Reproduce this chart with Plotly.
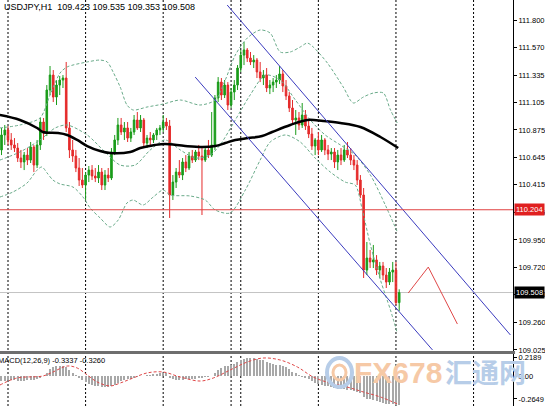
import plotly.graph_objects as go

# ---------------- data ----------------
hours = list(range(-2, 122))  # H1 bar index; day separators every 24 bars

opens = [110.707,110.833,110.875,110.791,110.749,110.723,110.639,110.606,110.664,110.622,110.732,110.580,110.749,
         110.942,110.849,111.211,111.337,111.152,111.253,111.295,111.312,110.892,110.707,110.656,110.555,110.454,
         110.412,110.496,110.538,110.488,110.471,110.521,110.412,110.496,110.471,110.690,110.791,110.917,110.858,
         110.892,110.807,110.858,110.959,110.892,110.959,110.765,110.807,110.791,110.833,110.875,110.892,110.942,
         110.908,110.328,110.437,110.521,110.496,110.606,110.555,110.656,110.622,110.690,110.656,110.622,110.707,
         110.664,110.749,111.144,111.278,111.169,111.253,111.085,111.194,111.253,111.396,111.505,111.548,111.480,
         111.447,111.463,111.363,111.312,111.337,111.228,111.253,111.278,111.295,111.346,111.245,111.161,111.060,
         110.959,110.976,110.917,111.001,110.908,110.841,110.740,110.791,110.707,110.791,110.707,110.673,110.690,
         110.606,110.664,110.622,110.707,110.664,110.622,110.580,110.454,110.328,109.697,109.798,109.765,109.782,
         109.697,109.731,109.655,109.596,109.680,109.697,109.423]
highs = [110.892,110.917,110.908,110.849,110.807,110.765,110.707,110.690,110.723,110.774,110.749,110.791,110.976,
         110.976,111.253,111.413,111.379,111.295,111.329,111.337,111.447,110.942,110.791,110.707,110.639,110.555,
         110.521,110.572,110.580,110.555,110.580,110.555,110.538,110.555,110.723,110.833,110.976,110.976,110.942,
         110.942,110.892,111.001,111.026,111.001,110.976,110.833,110.858,110.849,110.892,110.917,111.001,110.976,
         110.959,110.496,110.555,110.622,110.639,110.664,110.690,110.707,110.707,110.749,110.723,110.723,110.791,
         111.026,111.169,111.320,111.312,111.295,111.278,111.228,111.295,111.421,111.548,111.615,111.564,111.531,
         111.505,111.480,111.447,111.379,111.396,111.295,111.312,111.337,111.413,111.379,111.295,111.194,111.127,
         111.043,111.026,111.102,111.043,110.959,110.892,110.807,110.858,110.833,110.807,110.749,110.723,110.723,
         110.707,110.723,110.749,110.774,110.723,110.664,110.622,110.496,110.387,109.933,109.866,109.908,109.823,
         109.765,109.765,109.714,109.714,109.765,109.765,109.535]
lows = [110.664,110.749,110.749,110.707,110.690,110.606,110.555,110.538,110.580,110.597,110.521,110.555,110.707,
        110.791,110.824,111.169,111.110,111.085,111.169,111.228,110.858,110.639,110.606,110.521,110.404,110.387,
        110.286,110.437,110.454,110.437,110.429,110.370,110.370,110.437,110.454,110.664,110.749,110.833,110.791,
        110.774,110.774,110.833,110.875,110.858,110.732,110.723,110.749,110.765,110.791,110.833,110.858,110.875,
        110.135,110.286,110.387,110.471,110.454,110.521,110.538,110.597,110.606,110.622,110.160,110.606,110.639,
        110.648,110.707,111.110,111.127,111.144,111.043,111.060,111.127,111.211,111.363,111.421,111.447,111.421,
        111.396,111.312,111.278,111.253,111.194,111.177,111.194,111.228,111.262,111.194,111.127,111.026,110.917,
        110.833,110.875,110.892,110.875,110.807,110.707,110.664,110.664,110.690,110.664,110.622,110.622,110.555,
        110.538,110.580,110.606,110.639,110.580,110.538,110.412,110.303,109.630,109.655,109.714,109.714,109.655,
        109.630,109.613,109.546,109.571,109.596,109.403,109.353]
closes = [110.833,110.875,110.791,110.749,110.723,110.639,110.606,110.664,110.622,110.732,110.580,110.749,110.942,
          110.849,111.211,111.337,111.152,111.253,111.295,111.312,110.892,110.707,110.656,110.555,110.454,110.412,
          110.496,110.538,110.488,110.471,110.521,110.412,110.496,110.471,110.690,110.791,110.917,110.858,110.892,
          110.807,110.858,110.959,110.892,110.959,110.765,110.807,110.791,110.833,110.875,110.892,110.942,110.908,
          110.328,110.437,110.521,110.496,110.606,110.555,110.656,110.622,110.690,110.656,110.622,110.707,110.664,
          110.749,111.144,111.278,111.169,111.253,111.085,111.194,111.253,111.396,111.505,111.548,111.480,111.447,
          111.463,111.363,111.312,111.337,111.228,111.253,111.278,111.295,111.346,111.245,111.161,111.060,110.959,
          110.976,110.917,111.001,110.908,110.841,110.740,110.791,110.707,110.791,110.707,110.673,110.690,110.606,
          110.664,110.622,110.707,110.664,110.622,110.580,110.454,110.328,109.697,109.798,109.765,109.782,109.697,
          109.731,109.655,109.596,109.680,109.697,109.423,109.508]

# slow moving average (black)
ma_x = [-2.5, 3.7, 9.0, 10.8, 15.5, 18.3, 21.4, 24.5, 28.5, 31.6, 37.8, 40.9, 45.5, 48.6, 54.8, 60.1, 64.1, 67.2,
        70.3, 74.3, 78.6, 81.7, 87.3, 92.6, 97.5, 102.8, 109.0, 115.2, 120.7]
ma_y = [111.001, 110.959, 110.892, 110.858, 110.849, 110.833, 110.791, 110.740, 110.698, 110.681, 110.690, 110.723,
        110.749, 110.757, 110.740, 110.732, 110.740, 110.765, 110.791, 110.807, 110.824, 110.858, 110.917, 110.959,
        110.950, 110.934, 110.900, 110.816, 110.723]

# Bollinger bands (dashed)
bb_up_x = [-2.5, 3.7, 9.9, 13.0, 16.1, 18.3, 24.5, 28.5, 30.7, 32.5, 34.7, 36.8, 38.7, 43.0, 48.0, 53.3, 59.4, 64.1,
           67.2, 70.3, 74.0, 78.0, 81.1, 84.2, 87.3, 90.4, 92.6, 94.4, 98.8, 103.7, 106.8, 109.9, 113.0, 116.1, 118.3, 120.4]
bb_up_y = [110.892, 110.917, 110.976, 111.169, 111.354, 111.405, 111.447, 111.463, 111.447, 111.363, 111.236, 111.085,
           111.043, 111.068, 111.093, 111.127, 111.085, 111.127, 111.295, 111.505, 111.648, 111.716, 111.690, 111.531,
           111.531, 111.573, 111.606, 111.573, 111.438, 111.236, 111.102, 111.152, 111.186, 111.186, 111.043, 110.934]
bb_mid_x = [-2.5, 3.7, 9.9, 14.6, 18.3, 24.5, 30.0, 34.7, 39.3, 44.0, 48.6, 53.3, 57.9, 62.5, 65.6, 70.3, 74.9, 79.6,
            84.2, 88.9, 93.5, 98.1, 102.8, 107.4, 112.1, 116.7, 120.4]
bb_mid_y = [110.622, 110.690, 110.791, 110.892, 110.917, 110.833, 110.690, 110.580, 110.580, 110.707, 110.791, 110.707,
            110.639, 110.664, 110.749, 110.959, 111.169, 111.337, 111.295, 111.127, 110.959, 110.833, 110.749, 110.664,
            110.496, 110.244, 110.018]
bb_lo_x = [-2.5, 1.5, 5.9, 9.0, 10.5, 12.1, 13.9, 16.1, 20.1, 23.2, 25.4, 28.5, 31.6, 34.1, 36.8, 38.7, 41.8, 44.9,
           48.0, 50.2, 56.3, 61.0, 64.1, 68.7, 73.4, 78.0, 81.1, 85.8, 90.4, 95.0, 99.7, 104.3, 107.4, 109.6, 112.1,
           115.2, 118.3, 120.4]
bb_lo_y = [110.311, 110.353, 110.429, 110.538, 110.564, 110.513, 110.454, 110.421, 110.395, 110.311, 110.219, 110.135,
           110.059, 110.118, 110.261, 110.286, 110.244, 110.311, 110.370, 110.328, 110.320, 110.286, 110.202, 110.177,
           110.370, 110.622, 110.774, 110.833, 110.774, 110.639, 110.521, 110.437, 110.412, 110.202, 109.908, 109.613,
           109.361, 109.167]

# trend channel (blue) and projected zigzag (red)
chan_up_x = [67.8, 155.4]
chan_up_y = [111.926, 109.151]
chan_lo_x = [57.9, 131.3]
chan_lo_y = [111.320, 109.025]
zig_x = [123.8, 130.0, 139.0]
zig_y = [109.504, 109.722, 109.243]

level_red = 110.204
level_bid = 109.508
day_lines = [0, 24, 48, 69, 72, 96, 120, 144]

price_ticks = [111.800, 111.570, 111.335, 111.105, 110.875, 110.645, 110.415, 110.185,
               109.950, 109.720, 109.490, 109.260, 109.025]

# MACD(12,26,9): main (histogram) and signal (dashed)
macd_main = [-0.06, -0.06, -0.05, -0.05, -0.05, -0.06, -0.06, -0.06, -0.05, -0.05, -0.05, -0.03, -0.02,
             0.00, 0.04, 0.08, 0.10, 0.11, 0.12, 0.12, 0.10, 0.07, 0.04, 0.01, -0.02, -0.05, -0.07,
             -0.09, -0.10, -0.11, -0.12, -0.13, -0.13, -0.13, -0.12, -0.10, -0.08, -0.06, -0.05, -0.04, -0.03,
             -0.02, -0.01, 0.00, 0.00, 0.01, 0.01, 0.02, 0.02, 0.03, 0.04, 0.04,
             -0.02, -0.04, -0.05, -0.05, -0.05, -0.04, -0.04, -0.03, -0.03, -0.02, -0.02, -0.01, -0.01, 0.00,
             0.04, 0.07, 0.09, 0.11, 0.12, 0.13, 0.14, 0.16, 0.18, 0.20, 0.21, 0.21, 0.21, 0.20, 0.19, 0.18, 0.16,
             0.15, 0.14, 0.13, 0.13, 0.12, 0.10, 0.08, 0.05, 0.03, 0.01, -0.01, -0.02, -0.04, -0.06, -0.08,
             -0.09, -0.10, -0.11, -0.12, -0.13, -0.14, -0.15, -0.15, -0.15, -0.16, -0.16, -0.17, -0.18, -0.20,
             -0.24, -0.26, -0.27, -0.28, -0.29, -0.30, -0.31, -0.32, -0.32, -0.32, -0.33, -0.3337]
sig_x = [-2.5, 2.8, 10.8, 13.9, 18.3, 21.4, 24.5, 27.6, 31.6, 34.7, 38.7, 43.0, 48.0, 53.3, 59.4, 63.5, 68.7, 74.0,
         78.9, 84.2, 89.5, 94.4, 99.6, 104.9, 109.9, 115.2, 120.7]
sig_y = [-0.104, -0.023, 0.0, 0.046, 0.115, 0.092, 0.012, -0.069, -0.115, -0.081, -0.023, 0.035, 0.046, -0.012,
         -0.058, -0.023, 0.069, 0.161, 0.207, 0.184, 0.104, -0.012, -0.081, -0.127, -0.184, -0.242, -0.326]

# ---------------- figure ----------------
W, H = 545, 406
PLOT_W = 513
def px_x(p):
    return p / PLOT_W
def px_y(p):
    return 1 - p / H

fig = go.Figure()

GREEN = "#1a9c1a"
RED = "#e52b2b"
fig.add_trace(go.Candlestick(
    x=hours, open=opens, high=highs, low=lows, close=closes,
    increasing=dict(line=dict(color=GREEN, width=1), fillcolor=GREEN),
    decreasing=dict(line=dict(color=RED, width=1), fillcolor=RED),
    whiskerwidth=0, xaxis="x", yaxis="y", hoverinfo="skip"))

band_style = dict(color="#6aab8a", width=1, dash="3px,2px")
for bx, by in [(bb_up_x, bb_up_y), (bb_mid_x, bb_mid_y), (bb_lo_x, bb_lo_y)]:
    fig.add_trace(go.Scatter(x=bx, y=by, mode="lines", line=dict(shape="spline", smoothing=0.8, **band_style),
                             xaxis="x", yaxis="y", hoverinfo="skip"))

fig.add_trace(go.Scatter(x=ma_x, y=ma_y, mode="lines", line=dict(color="black", width=2.5, shape="spline"),
                         xaxis="x", yaxis="y", hoverinfo="skip"))

for cx, cy in [(chan_up_x, chan_up_y), (chan_lo_x, chan_lo_y)]:
    fig.add_trace(go.Scatter(x=cx, y=cy, mode="lines", line=dict(color="#3b3bbf", width=1),
                             xaxis="x", yaxis="y", hoverinfo="skip"))

fig.add_trace(go.Scatter(x=zig_x, y=zig_y, mode="lines", line=dict(color="#e04848", width=1),
                         xaxis="x", yaxis="y", hoverinfo="skip"))

fig.add_trace(go.Bar(x=hours, y=macd_main, marker=dict(color="#a8a8a8", line=dict(width=0)), width=0.35,
                     xaxis="x2", yaxis="y2", hoverinfo="skip"))
fig.add_trace(go.Scatter(x=sig_x, y=sig_y, mode="lines",
                         line=dict(color="#e04848", width=1, dash="3px,2px", shape="spline"),
                         xaxis="x2", yaxis="y2", hoverinfo="skip"))

xr = [(0 - 8) / 3.233, (PLOT_W - 8) / 3.233]
main_bot = 351
price_per_px = 1 / 118.9
y_max = 111.800 + 20 * price_per_px
y_min = y_max - main_bot * price_per_px

tick_font = dict(family="Liberation Sans, Arial, sans-serif", size=7.5, color="black")

shapes = []
for d in day_lines:
    shapes.append(dict(type="line", xref="x", yref="paper", x0=d, x1=d, y0=0, y1=1,
                       line=dict(color="black", width=1, dash="2px,2px"), layer="below"))
shapes.append(dict(type="line", xref="paper", yref="y", x0=0, x1=1, y0=level_red, y1=level_red,
                   line=dict(color="#e04040", width=1)))
shapes.append(dict(type="line", xref="paper", yref="y", x0=0, x1=1, y0=level_bid, y1=level_bid,
                   line=dict(color="#c4c4c4", width=1), layer="below"))
shapes.append(dict(type="rect", xref="paper", yref="paper", x0=0, x1=1.004, y0=px_y(354), y1=px_y(351),
                   line=dict(width=0), fillcolor="#6e6e6e"))
# watermark logo ring
shapes.append(dict(type="circle", xref="paper", yref="paper", x0=px_x(327), x1=px_x(352), y0=px_y(387), y1=px_y(358),
                   line=dict(color="#b7cde8", width=4), fillcolor="rgba(0,0,0,0)"))
shapes.append(dict(type="circle", xref="paper", yref="paper", x0=px_x(333), x1=px_x(346), y0=px_y(380), y1=px_y(365),
                   line=dict(color="#f6c9a6", width=3), fillcolor="rgba(0,0,0,0)"))

annotations = [
    dict(xref="paper", yref="paper", x=px_x(2), y=px_y(7), text="USDJPY,H1  109.423 109.535 109.353 109.508",
         showarrow=False, xanchor="left", yanchor="middle",
         font=dict(family="Liberation Sans, Arial, sans-serif", size=9, color="black")),
    dict(xref="paper", yref="paper", x=0, y=px_y(360), xshift=-4, text="MACD(12,26,9) -0.3337 -0.3260",
         showarrow=False, xanchor="left", yanchor="middle",
         font=dict(family="Liberation Sans, Arial, sans-serif", size=7.5, color="black")),
    dict(xref="paper", yref="paper", x=px_x(352), y=px_y(372), text="<b>FX678</b>", showarrow=False,
         xanchor="left", yanchor="middle", font=dict(family="Liberation Sans, Arial", size=30, color="#f6c9a6")),
    dict(xref="paper", yref="paper", x=px_x(443), y=px_y(371), text="<b>汇通网</b>", showarrow=False,
         xanchor="left", yanchor="middle", font=dict(family="Noto Sans CJK SC", size=27, color="#b7cde8")),
    dict(xref="paper", yref="y", x=1, y=level_red, xshift=1, text="110.204", showarrow=False,
         xanchor="left", yanchor="middle", bgcolor="#e02020", borderpad=1,
         font=dict(family="Liberation Sans, Arial", size=7.5, color="white")),
    dict(xref="paper", yref="y", x=1, y=level_bid, xshift=1, text="109.508", showarrow=False,
         xanchor="left", yanchor="middle", bgcolor="black", borderpad=1,
         font=dict(family="Liberation Sans, Arial", size=7.5, color="white")),
]

fig.update_layout(
    width=W, height=H, margin=dict(l=0, r=W - PLOT_W, t=0, b=0, autoexpand=False),
    paper_bgcolor="white", plot_bgcolor="white", showlegend=False, bargap=0,
    xaxis=dict(domain=[0, 1], range=xr, visible=False, rangeslider=dict(visible=False), anchor="y"),
    xaxis2=dict(domain=[0, 1], range=xr, visible=False, matches="x", anchor="y2"),
    yaxis=dict(domain=[px_y(main_bot), 1], range=[y_min, y_max], side="right", anchor="x",
               tickvals=price_ticks, ticktext=[f"{v:.3f}" for v in price_ticks], automargin=False,
               showline=True, linecolor="black", linewidth=1, ticks="outside", ticklen=3, tickcolor="black",
               showgrid=False, zeroline=False, tickfont=tick_font),
    yaxis2=dict(domain=[0, px_y(353)], range=[-30 / 86.8, 23 / 86.8], side="right", anchor="x2",
                tickvals=[0.2189, 0, -0.2649], ticktext=["0.2189", "0.00", "-0.2649"], automargin=False,
                showline=True, linecolor="black", linewidth=1, ticks="outside", ticklen=3, tickcolor="black",
                showgrid=False, zeroline=False, tickfont=tick_font),
    shapes=shapes, annotations=annotations,
)

fig.write_html("out.html", config={"displayModeBar": False},
               post_script="document.body.style.margin='0';document.body.style.overflow='hidden';")
